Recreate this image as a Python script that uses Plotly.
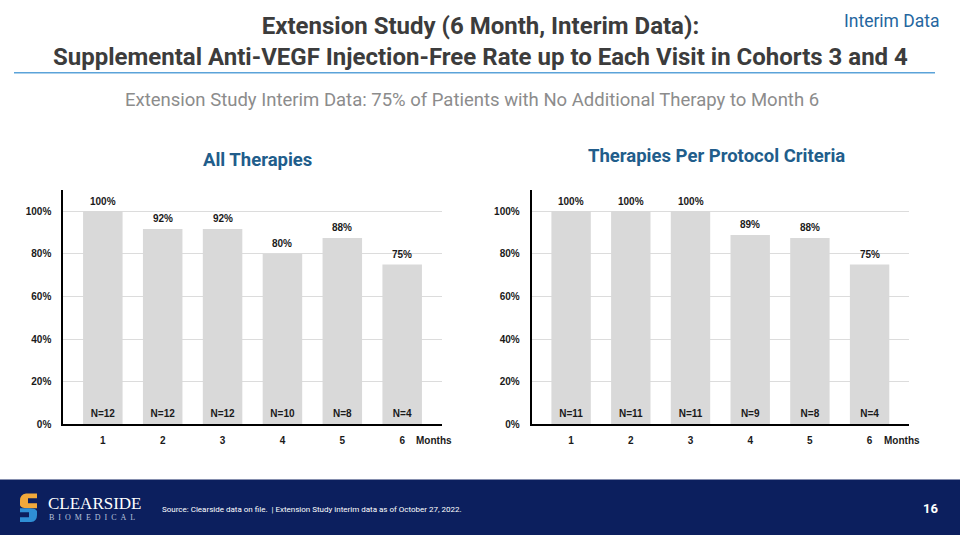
import plotly.graph_objects as go

months = [1, 2, 3, 4, 5, 6]
month_labels = ["1", "2", "3", "4", "5", "6"]
all_rate = [100, 91.7, 91.7, 80, 87.5, 75]
all_n = ["N=12", "N=12", "N=12", "N=10", "N=8", "N=4"]
proto_rate = [100, 100, 100, 88.9, 87.5, 75]
proto_n = ["N=11", "N=11", "N=11", "N=9", "N=8", "N=4"]
y_ticks = [0, 20, 40, 60, 80, 100]
y_tick_labels = ["0%", "20%", "40%", "60%", "80%", "100%"]

W, H = 960, 540
def px(x): return x / W
def py(y): return 1 - y / H

BAR = "#d9d9d9"
LBL = dict(family="Liberation Sans, Arial", size=10, color="#1a1a1a", weight="bold")

fig = go.Figure()
ann = []
for i, (rate, ns) in enumerate([(all_rate, all_n), (proto_rate, proto_n)]):
    xa = "x" if i == 0 else "x2"
    ya = "y" if i == 0 else "y2"
    fig.add_trace(go.Bar(x=months, y=rate, xaxis=xa, yaxis=ya, width=0.66,
                         marker=dict(color=BAR, line=dict(width=0)),
                         showlegend=False, hoverinfo="skip"))
    fig.add_trace(go.Scatter(x=months, y=[4.8] * 6, xaxis=xa, yaxis=ya, mode="text",
                             text=ns, textfont=LBL, showlegend=False, hoverinfo="skip",
                             cliponaxis=False))
    for m, v in zip(months, rate):
        ann.append(dict(text=f"{v:.0f}%", x=m, y=v, xref=xa, yref=ya, showarrow=False,
                        yshift=10, font=LBL, xanchor="center", yanchor="middle"))

ax_common = dict(range=[0.34, 6.66], tickvals=months, ticktext=month_labels,
                 showgrid=False, showline=True, linecolor="#000000", linewidth=2,
                 ticks="", tickfont=LBL, ticklabelstandoff=6, zeroline=False,
                 fixedrange=True)
ay_common = dict(range=[0, 110], tickvals=y_ticks, ticktext=y_tick_labels,
                 showgrid=True, gridcolor="#dcdcdc", gridwidth=1, showline=True,
                 linecolor="#000000", linewidth=2, ticks="", tickfont=LBL,
                 ticklabelstandoff=8, zeroline=False, fixedrange=True)

fig.update_layout(
    width=W, height=H, margin=dict(l=0, r=0, t=0, b=0),
    paper_bgcolor="white", plot_bgcolor="white",
    xaxis=dict(domain=[px(63.3), px(441.7)], anchor="y", **ax_common),
    yaxis=dict(domain=[py(428.3), py(191.7)], anchor="x", **ay_common),
    xaxis2=dict(domain=[px(531.7), px(909)], anchor="y2", **ax_common),
    yaxis2=dict(domain=[py(428.3), py(191.7)], anchor="x2", **ay_common),
    bargap=0.34,
)

ann.append(dict(text="Extension Study (6 Month, Interim Data):<br>Supplemental Anti-VEGF Injection-Free Rate up to Each Visit in Cohorts 3 and 4",
                x=px(480), y=py(42), xref="paper", yref="paper", showarrow=False,
                font=dict(family="Roboto", size=24, color="#3c3c3c", weight="bold"),
                align="center", xanchor="center", yanchor="middle"))
ann.append(dict(text="Interim Data", x=px(892), y=py(21), xref="paper", yref="paper",
                showarrow=False, font=dict(family="Roboto", size=17.5, color="#2566a0"),
                xanchor="center", yanchor="middle"))
ann.append(dict(text="Extension Study Interim Data: 75% of Patients with No Additional Therapy to Month 6",
                x=px(472), y=py(101), xref="paper", yref="paper", showarrow=False,
                font=dict(family="Roboto", size=18.5, color="#8c8c8c"),
                xanchor="center", yanchor="middle"))
ann.append(dict(text="All Therapies", x=px(257), y=py(161), xref="paper", yref="paper",
                showarrow=False, font=dict(family="Roboto", size=18.5, color="#215d8b", weight="bold"),
                xanchor="center", yanchor="middle"))
ann.append(dict(text="Therapies Per Protocol Criteria", x=px(716), y=py(157), xref="paper", yref="paper",
                showarrow=False, font=dict(family="Roboto", size=18.5, color="#215d8b", weight="bold"),
                xanchor="center", yanchor="middle"))
for mx in (414, 882):
    ann.append(dict(text="Months", x=px(mx), y=py(445), xref="paper", yref="paper",
                    showarrow=False, font=dict(family="Liberation Sans, Arial", size=10, color="#1a1a1a", weight="bold"),
                    xanchor="left", yanchor="middle"))
# footer
ann.append(dict(text="CLEARSIDE", x=px(46), y=py(508), xref="paper", yref="paper",
                showarrow=False, font=dict(family="Liberation Serif", size=17, color="white"),
                xanchor="left", yanchor="middle"))
ann.append(dict(text="\u2002".join("BIOMEDICAL"), x=px(47), y=py(522), xref="paper", yref="paper",
                showarrow=False, font=dict(family="Liberation Serif", size=8, color="#b9c4dc"),
                xanchor="left", yanchor="middle"))
ann.append(dict(text="Source: Clearside data on file.  | Extension Study interim data as of October 27, 2022.",
                x=px(160), y=py(514), xref="paper", yref="paper", showarrow=False,
                font=dict(family="Roboto", size=8, color="white"), xanchor="left", yanchor="middle"))
ann.append(dict(text="16", x=px(940), y=py(513), xref="paper", yref="paper", showarrow=False,
                font=dict(family="Roboto", size=13, color="white", weight="bold"),
                xanchor="right", yanchor="middle"))

shapes = [
    dict(type="line", xref="paper", yref="paper", x0=px(14), x1=px(935), y0=py(73.5), y1=py(73.5),
         line=dict(color="#5ba3d9", width=1.5)),
    dict(type="rect", xref="paper", yref="paper", x0=0, x1=1, y0=0, y1=py(484),
         fillcolor="#0c1f5e", line=dict(width=0), layer="below"),
    dict(type="path", xref="paper", yref="paper",
         path=f"M {px(37)} {py(498)} L {px(26)} {py(498)} Q {px(20)} {py(499)} {px(20)} {py(505)} L {px(20)} {py(510)} Q {px(21)} {py(513)} {px(27)} {py(513)} L {px(37)} {py(513)} L {px(37)} {py(508)} L {px(28)} {py(508)} L {px(28)} {py(503)} L {px(37)} {py(503)} Z",
         fillcolor="#f2a93b", line=dict(width=0)),
    dict(type="path", xref="paper", yref="paper",
         path=f"M {px(20)} {py(527)} L {px(31)} {py(527)} Q {px(37)} {py(526)} {px(37)} {py(520)} L {px(37)} {py(516)} Q {px(36)} {py(513)} {px(30)} {py(513)} L {px(20)} {py(513)} L {px(20)} {py(517)} L {px(29)} {py(517)} L {px(29)} {py(522)} L {px(20)} {py(522)} Z",
         fillcolor="#2f8fd6", line=dict(width=0)),
]
fig.update_layout(annotations=ann, shapes=shapes)
fig.write_html("out.html")
